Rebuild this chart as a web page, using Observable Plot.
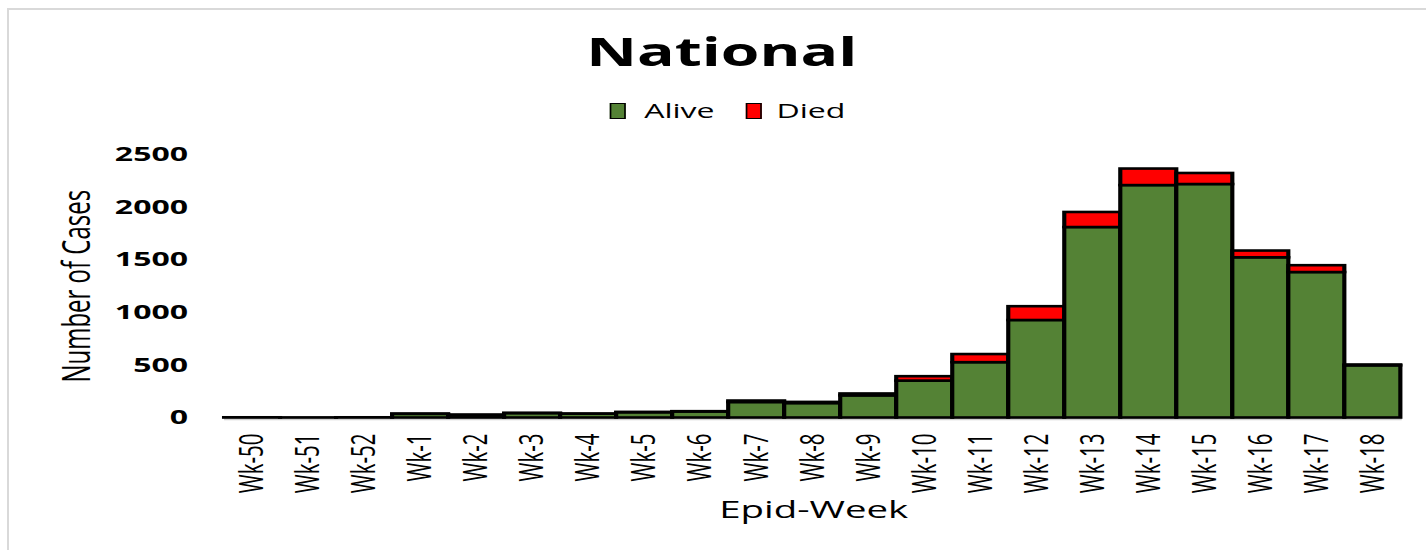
<!DOCTYPE html>
<html>
<head>
<meta charset="utf-8">
<script src="https://cdn.jsdelivr.net/npm/d3@7"></script>
<script src="https://cdn.jsdelivr.net/npm/@observablehq/plot@0.6"></script>
<style>
  html, body { margin: 0; padding: 0; background: #fff; overflow: hidden; }
  body { width: 1426px; height: 550px; position: relative; font-family: 'Open Sans', sans-serif; }
  #frame { position: absolute; left: 7px; top: 8px; width: 3000px; height: 3000px; border: 2.5px solid #d9d9d9; box-sizing: border-box; }
  #wrap { position: absolute; left: 0; top: 0; width: 891px; height: 550px; transform-origin: 0 0; transform: scaleX(1.6004); }
  #title { position: absolute; left: 0; width: 902px; top: 31.4px; font-size: 39px; line-height: 39px; font-weight: 700; text-align: center; color: #000; }
  .sw { position: absolute; top: 103px; width: 10.8px; height: 16px; box-sizing: border-box; border: 1.8px solid #000; }
  .lt { position: absolute; top: 100.5px; font-size: 20px; line-height: 20px; color: #000; }
  #chart { position: absolute; left: 0; top: 130px; }
</style>
</head>
<body>
<div id="frame"></div>
<div id="wrap">
  <div id="title"></div>
  <div id="legend"></div>
  <div id="chart"></div>
</div>
<script>
const chartTitle = "National";
const weeks = ["Wk-50","Wk-51","Wk-52","Wk-1","Wk-2","Wk-3","Wk-4","Wk-5","Wk-6","Wk-7","Wk-8","Wk-9","Wk-10","Wk-11","Wk-12","Wk-13","Wk-14","Wk-15","Wk-16","Wk-17","Wk-18"];
const alive = [2,1,2,35,25,42,36,50,57,147,137,210,350,525,925,1807,2205,2215,1520,1380,495];
const died  = [0,0,0,2,2,2,1,3,3,14,11,18,42,77,131,143,157,105,64,65,8];
const statuses = ["Alive","Died"];
const colors = ["#548235","#FF0000"];
const yTicks = [0,500,1000,1500,2000,2500];
const yLabel = "Number of Cases";
const xLabel = "Epid-Week";

document.getElementById("title").textContent = chartTitle;

// legend
const legend = document.getElementById("legend");
const legendPos = [{sw: 380.6, tx: 402.5}, {sw: 465.6, tx: 485.2}];
statuses.forEach((s, i) => {
  const sw = document.createElement("div");
  sw.className = "sw";
  sw.style.left = legendPos[i].sw + "px";
  sw.style.background = colors[i];
  legend.appendChild(sw);
  const t = document.createElement("div");
  t.className = "lt";
  t.style.left = legendPos[i].tx + "px";
  t.textContent = s;
  legend.appendChild(t);
});

const rows = weeks.flatMap((w, i) => [
  {week: w, status: statuses[0], count: alive[i]},
  {week: w, status: statuses[1], count: died[i]}
]);

const plot = Plot.plot({
  width: 891,
  height: 420,
  marginTop: 24,
  marginBottom: 132.5,
  marginLeft: 140,
  marginRight: 15.1,
  style: {fontFamily: "'Open Sans', sans-serif", color: "#000", background: "transparent", overflow: "visible"},
  x: {domain: weeks, padding: 0},
  y: {domain: [0, 2500]},
  color: {domain: statuses, range: colors},
  marks: [
    Plot.ruleY([0], {stroke: "#d0d0d0", strokeWidth: 2, dy: 1.2}),
    Plot.barY(rows, {x: "week", y: "count", fill: "status", stroke: "#000", strokeWidth: 2.6, order: statuses}),
    Plot.axisX({tickSize: 0, tickPadding: 15.5, tickRotate: -90, fontSize: 20.5, label: null}),
    Plot.axisY({ticks: yTicks, tickSize: 0, tickPadding: 23, fontSize: 20, fontWeight: "bold", tickFormat: d => String(d), label: null}),
    Plot.text([yLabel], {text: d => d, frameAnchor: "left", textAnchor: "middle", rotate: -90, dx: -92, fontSize: 24}),
    Plot.text([xLabel], {text: d => d, frameAnchor: "bottom", dy: 99.8, fontSize: 24})
  ]
});
document.getElementById("chart").appendChild(plot);
</script>
</body>
</html>
